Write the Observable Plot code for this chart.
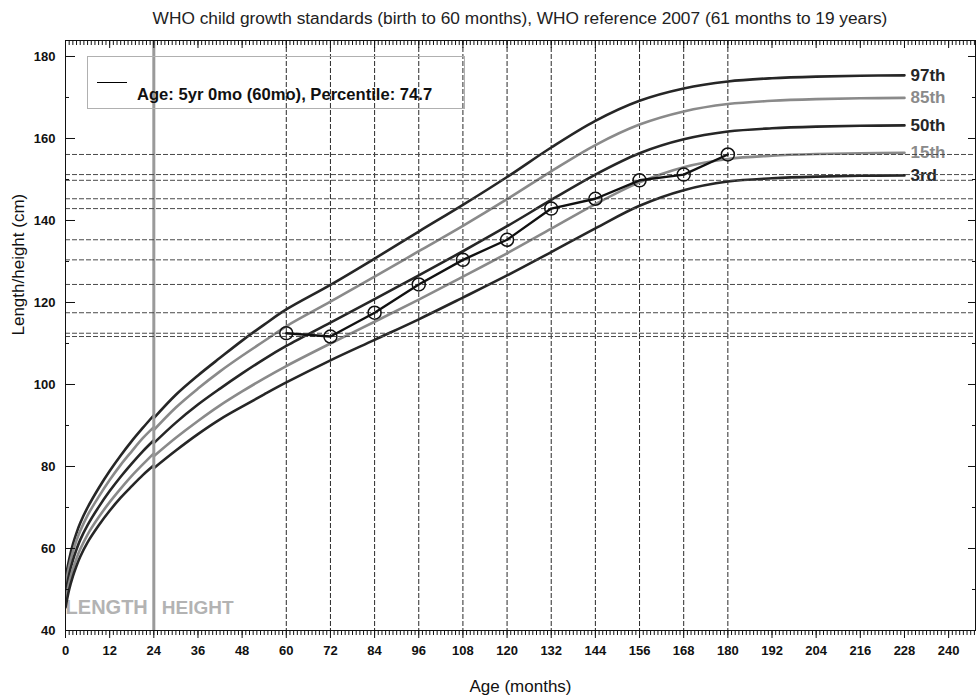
<!DOCTYPE html>
<html><head><meta charset="utf-8">
<script src="https://cdn.jsdelivr.net/npm/d3@7"></script>
<script src="https://cdn.jsdelivr.net/npm/@observablehq/plot@0.6"></script>
<style>
body{margin:0;background:#fff;font-family:"Liberation Sans",Arial,sans-serif;}
#wrap{position:relative;width:976px;height:696px;overflow:hidden;}
#title{height:36px;line-height:36px;padding-left:65px;padding-right:1px;text-align:center;font-size:17.3px;color:#222;white-space:nowrap;}
#legend{position:absolute;left:87px;top:56px;width:378px;height:53px;border:1px solid #b0b0b0;box-sizing:border-box;}
#legend .sample{position:absolute;left:9px;top:25px;width:30px;height:0;border-top:1px solid #000;}
#legend .txt{position:absolute;left:49px;top:28px;font-size:16.6px;font-weight:bold;color:#111;white-space:nowrap;}
</style></head>
<body>
<div id="wrap">
<div id="title">WHO child growth standards (birth to 60 months), WHO reference 2007 (61 months to 19 years)</div>
<div id="chart"></div>
<div id="legend"><div class="sample"></div><div class="txt">Age: 5yr 0mo (60mo), Percentile: 74.7</div></div>
</div>
<script>
// WHO girls length-for-age percentiles, birth to 24 months (recumbent length)
const lengthAges = [0,1,2,3,4,6,9,12,15,18,21,24];
const len3  = [45.6,50.0,53.2,55.8,58.0,61.5,65.6,69.2,72.4,75.2,77.9,80.3];
const len15 = [47.2,51.7,55.0,57.6,59.8,63.4,67.6,71.3,74.6,77.7,80.5,83.2];
const len50 = [49.1,53.7,57.1,59.8,62.1,65.7,70.1,74.0,77.5,80.7,83.7,86.4];
const len85 = [51.1,55.7,59.2,62.0,64.3,68.1,72.6,76.7,80.4,83.7,86.9,89.6];
const len97 = [52.7,57.4,61.0,63.8,66.2,70.0,74.7,78.9,82.7,86.2,89.4,92.5];

// WHO girls height-for-age percentiles, 24 months to 19 years (standing height)
const heightAges = [24,30,36,42,48,54,60,72,84,96,108,120,132,144,156,168,180,192,204,216,228];
const ht3  = [79.6,83.9,87.9,91.5,94.6,97.6,100.5,105.9,110.9,115.9,121.2,126.6,132.3,138.1,143.6,147.4,149.5,150.3,150.7,150.9,151.0];
const ht15 = [82.5,87.0,91.1,94.9,98.3,101.5,104.5,110.0,115.3,120.7,126.3,132.0,138.0,144.0,149.3,153.0,155.0,155.8,156.2,156.4,156.5];
const ht50 = [85.7,90.7,95.1,99.0,102.7,106.2,109.4,115.1,120.8,126.6,132.5,138.6,145.0,151.2,156.4,159.8,161.7,162.5,162.9,163.1,163.2];
const ht85 = [88.9,94.4,99.0,103.2,107.0,110.6,114.2,120.2,126.3,132.5,138.7,145.2,152.0,158.4,163.4,166.6,168.4,169.2,169.6,169.8,169.9];
const ht97 = [91.8,97.5,102.2,106.5,110.7,114.6,118.3,124.3,130.7,137.3,143.8,150.6,157.8,164.3,169.2,172.2,173.9,174.7,175.1,175.3,175.4];

const pctLabels = ["97th","85th","50th","15th","3rd"];
const pctColors = ["#262626","#8a8a8a","#262626","#8a8a8a","#262626"];

// child measurements
const childAges = [60,72,84,96,108,120,132,144,156,168,180];
const childHeights = [112.5,111.7,117.5,124.4,130.4,135.3,142.9,145.3,149.8,151.2,156.1];

const lengthHeightBoundary = 24;
const xMajorTicks = d3.range(0, 241, 12);
const xMinorTicks = d3.range(0, 248, 1);
const yMajorTicks = d3.range(40, 181, 20);
const yMinorTicks = d3.range(50, 181, 20);

const lengthSeries = [len97, len85, len50, len15, len3];
const heightSeries = [ht97, ht85, ht50, ht15, ht3];
const curves = [
  ...lengthSeries.flatMap((vals, i) => vals.map((v, j) => ({age: lengthAges[j], value: v, pct: pctLabels[i], seg: pctLabels[i] + "-length"}))),
  ...heightSeries.flatMap((vals, i) => vals.map((v, j) => ({age: heightAges[j], value: v, pct: pctLabels[i], seg: pctLabels[i] + "-height"})))
];
const ends = heightSeries.map((vals, i) => ({age: heightAges[heightAges.length-1], value: vals[vals.length-1], pct: pctLabels[i]}));
const child = childAges.map((a, i) => ({age: a, height: childHeights[i]}));

const W = 976, H = 660, mL = 65, mR = 1, mT = 4, mB = 66;
const fW = W - mL - mR, fH = H - mT - mB;

const chart = Plot.plot({
  width: W, height: H,
  marginLeft: mL, marginRight: mR, marginTop: mT, marginBottom: mB,
  style: {fontFamily: "Liberation Sans, Arial, sans-serif", background: "#fff", color: "#111"},
  x: {domain: [0, 247.3], axis: null},
  y: {domain: [40, 183.9], axis: null},
  color: {domain: pctLabels, range: pctColors},
  marks: [
    Plot.ruleX(childAges, {x: d => d, stroke: "#2a2a2a", strokeWidth: 1, strokeDasharray: "5,2"}),
    Plot.text(["LENGTH"], {x: lengthHeightBoundary, frameAnchor: "bottom", dx: -6, dy: -17, textAnchor: "end", lineAnchor: "bottom", fill: "#b3b3b3", fontSize: 20, fontWeight: "bold", clip: "frame"}),
    Plot.text(["HEIGHT"], {x: lengthHeightBoundary, frameAnchor: "bottom", dx: 8, dy: -17, textAnchor: "start", lineAnchor: "bottom", fill: "#b3b3b3", fontSize: 19, fontWeight: "bold"}),
    Plot.line(curves, {x: "age", y: "value", z: "seg", stroke: "pct", strokeWidth: 2.6, curve: "catmull-rom", clip: "frame"}),
    Plot.ruleX([lengthHeightBoundary], {x: d => d, stroke: "#9a9a9a", strokeWidth: 3}),
    Plot.text(ends, {x: "age", y: "value", text: "pct", fill: "pct", dx: 6, textAnchor: "start", fontSize: 17, fontWeight: "bold"}),
    Plot.ruleY(childHeights, {y: d => d, stroke: "#4a4a4a", strokeWidth: 1, strokeDasharray: "5,2"}),
    Plot.line(child, {x: "age", y: "height", stroke: "#111", strokeWidth: 2.4}),
    Plot.dot(child, {x: "age", y: "height", r: 6.5, stroke: "#111", strokeWidth: 1.5, fill: "none"}),
    Plot.frame({stroke: "#111"}),
    // bottom ticks (outward)
    Plot.axisX(xMinorTicks, {tickSize: 5, tickFormat: () => "", label: null, stroke: "#111"}),
    Plot.axisX(xMajorTicks, {tickSize: 8, tickPadding: 7, fontSize: 13, fontWeight: "bold", label: null, stroke: "#111", fill: "#111"}),
    // top ticks (inward)
    Plot.tickX(xMinorTicks, {x: d => d, insetBottom: fH - 5, stroke: "#111"}),
    Plot.tickX(xMajorTicks, {x: d => d, insetBottom: fH - 8, stroke: "#111"}),
    // left ticks (inward)
    Plot.tickY(yMajorTicks, {y: d => d, insetRight: fW - 10, stroke: "#111"}),
    Plot.tickY(yMinorTicks, {y: d => d, insetRight: fW - 4, stroke: "#111"}),
    // right ticks (inward)
    Plot.tickY(yMajorTicks, {y: d => d, insetLeft: fW - 7, stroke: "#111"}),
    Plot.tickY(yMinorTicks, {y: d => d, insetLeft: fW - 3, stroke: "#111"}),
    Plot.axisY(yMajorTicks, {tickSize: 0, tickPadding: 10, fontSize: 13, fontWeight: "bold", label: null, fill: "#111"}),
    Plot.text(["Age (months)"], {frameAnchor: "bottom", dy: 61, lineAnchor: "bottom", fontSize: 17, fill: "#111"}),
    Plot.text(["Length/height (cm)"], {frameAnchor: "left", dx: -54, rotate: -90, lineAnchor: "top", fontSize: 17, fill: "#111"})
  ]
});
document.getElementById("chart").appendChild(chart);
</script>
</body></html>
